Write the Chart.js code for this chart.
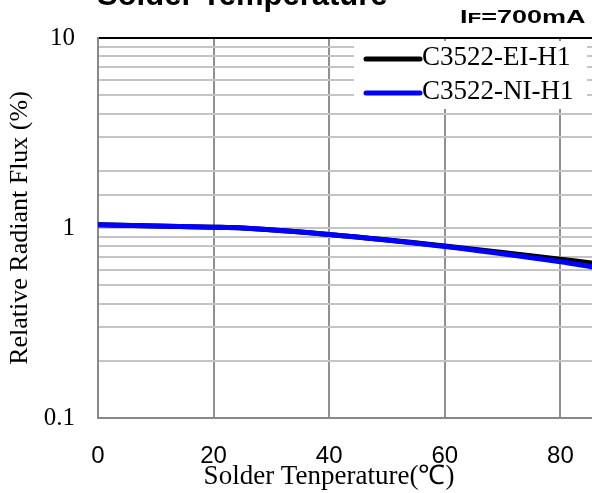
<!DOCTYPE html>
<html lang="en">
<head>
<meta charset="UTF-8">
<title>Solder Temperature</title>
<script src="https://cdn.jsdelivr.net/npm/chart.js"></script>
<style>
    body {
        margin: 0;
        padding: 0;
        background: #fff;
        overflow: hidden;
    }
</style>
</head>
<body>
<canvas id="chart" width="720" height="493"></canvas>
<script>
// values
const temps = [0, 20, 25, 40, 60, 80, 86];
const eiFlux = [1.04, 1.01, 1.0, 0.925, 0.805, 0.685, 0.65];
const niFlux = [1.04, 1.01, 1.0, 0.925, 0.80, 0.665, 0.62];
const seriesNames = ['C3522-EI-H1', 'C3522-NI-H1'];
const seriesColors = ['#000000', '#0000ff'];
const xTicks = [0, 20, 40, 60, 80, 100];
const yTickLabels = [0.1, 1, 10];

const serif = '"Liberation Serif", "Times New Roman", serif';
const sans = '"Liberation Sans", Arial, sans-serif';

// title, current note, x axis title and the legend box
const overlay = {
    id: 'overlay',
    afterDraw(chart) {
        const ctx = chart.ctx;
        ctx.save();
        ctx.fillStyle = '#000';
        ctx.textAlign = 'left';
        ctx.textBaseline = 'alphabetic';

        ctx.font = 'bold 31px ' + sans;
        ctx.fillText('Solder Temperature', 97, 5);

        // IF=700mA, drawn wide like in the datasheet
        ctx.save();
        ctx.translate(460, 23);
        ctx.scale(1.5, 1);
        ctx.font = 'bold 18px ' + sans;
        let x = 0;
        ctx.fillText('I', x, 0);
        x += ctx.measureText('I').width;
        ctx.font = 'bold 15px ' + sans;
        ctx.fillText('F', x, 0);
        x += ctx.measureText('F').width;
        ctx.font = 'bold 18px ' + sans;
        ctx.fillText('=700mA', x, 0);
        ctx.restore();

        ctx.font = '27px ' + serif;
        ctx.textAlign = 'center';
        ctx.fillText('Solder Tenperature(\u2103)', 329, 484);

        // legend
        ctx.fillStyle = '#fff';
        ctx.fillRect(354, 41, 233, 68);
        chart.data.datasets.forEach((ds, i) => {
            const y = 59 + i * 34;
            ctx.strokeStyle = ds.borderColor;
            ctx.lineWidth = 5;
            ctx.lineCap = 'round';
            ctx.beginPath();
            ctx.moveTo(366, y);
            ctx.lineTo(420, y);
            ctx.stroke();
            ctx.fillStyle = '#000';
            ctx.textAlign = 'left';
            ctx.font = '27px ' + serif;
            ctx.fillText(ds.label, 422, y + 6);
        });
        ctx.restore();
    }
};

function points(values) {
    return temps.map((t, i) => ({x: t, y: values[i]}));
}

new Chart(document.getElementById('chart'), {
    type: 'line',
    data: {
        datasets: [
            {label: seriesNames[0], data: points(eiFlux), borderColor: seriesColors[0], borderWidth: 5, pointRadius: 0, tension: 0.3, order: 1},
            {label: seriesNames[1], data: points(niFlux), borderColor: seriesColors[1], borderWidth: 5, pointRadius: 0, tension: 0.3, order: 0}
        ]
    },
    options: {
        responsive: false,
        animation: false,
        layout: {padding: {top: 31, right: 40, left: 0, bottom: 0}},
        plugins: {legend: {display: false}, tooltip: {enabled: false}},
        scales: {
            x: {
                type: 'linear',
                min: 0,
                max: 100,
                afterFit: s => { s.height = 75; },
                afterBuildTicks: s => { s.ticks = xTicks.map(v => ({value: v})); },
                grid: {color: '#909090', lineWidth: 2, drawTicks: false},
                border: {color: '#888', width: 2},
                ticks: {padding: 24, color: '#000', maxRotation: 0, font: {family: sans, size: 24}}
            },
            y: {
                type: 'logarithmic',
                min: 0.1,
                max: 10,
                afterFit: s => { s.width = 98; },
                grid: {
                    color: c => (c.tick && c.tick.value === 10) ? '#000' : '#c4c4c4',
                    lineWidth: 2,
                    drawTicks: false
                },
                border: {color: '#888', width: 2},
                ticks: {
                    padding: 23,
                    color: '#000',
                    autoSkip: false,
                    font: {family: serif, size: 25},
                    callback: v => yTickLabels.includes(v) ? String(v) : ''
                },
                title: {
                    display: true,
                    text: 'Relative Radiant Flux (%)',
                    color: '#000',
                    font: {family: serif, size: 26},
                    padding: {top: 5, bottom: 0}
                }
            }
        }
    },
    plugins: [overlay]
});
</script>
</body>
</html>
